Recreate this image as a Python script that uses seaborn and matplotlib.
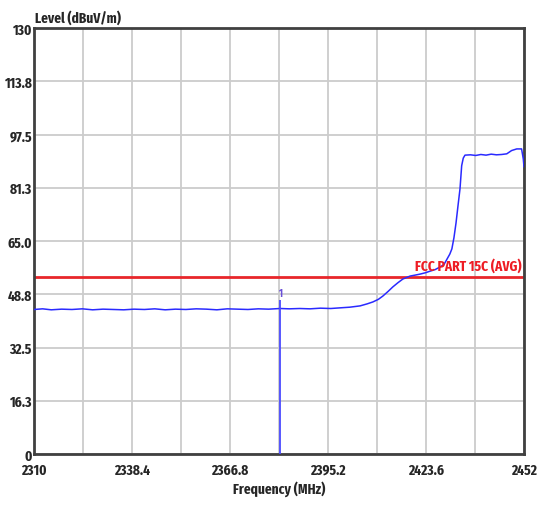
import matplotlib
matplotlib.use("Agg")
import matplotlib.pyplot as plt
import seaborn as sns
import pandas as pd
import numpy as np
from matplotlib import font_manager

sns.set_style("white")

# ---- data ----
freq_mhz = [2310.0, 2312.5, 2315.0, 2318.0, 2321.0, 2324.0, 2327.0, 2330.0, 2333.0, 2336.0,
            2339.0, 2342.0, 2345.0, 2348.0, 2351.0, 2354.0, 2357.0, 2360.0, 2363.0, 2366.0,
            2369.0, 2372.0, 2375.0, 2378.0, 2381.3, 2384.0, 2387.0, 2390.0, 2393.0, 2396.0,
            2398.7, 2401.5, 2404.5, 2406.5, 2408.2, 2409.8, 2411.1, 2412.6, 2414.0, 2415.5,
            2416.9, 2419.0, 2420.5, 2421.9, 2423.4, 2424.8, 2426.3, 2427.7, 2428.8, 2429.7,
            2430.5, 2431.1, 2431.7, 2432.3, 2432.9, 2433.45, 2433.94, 2434.4, 2434.9, 2436.5,
            2438.0, 2439.5, 2441.0, 2442.5, 2444.0, 2445.5, 2447.0, 2448.4, 2449.9, 2451.3,
            2451.8, 2452.0]
level_dbuv = [44.1, 44.3, 44.0, 44.2, 44.1, 44.3, 44.0, 44.2, 44.1, 44.0,
              44.2, 44.1, 44.3, 44.0, 44.2, 44.1, 44.3, 44.2, 44.0, 44.3,
              44.2, 44.1, 44.3, 44.2, 44.4, 44.3, 44.4, 44.3, 44.5, 44.4,
              44.6, 44.8, 45.2, 45.8, 46.4, 47.2, 48.2, 49.6, 51.0, 52.3,
              53.4, 54.3, 54.6, 54.9, 55.3, 55.8, 56.3, 57.1, 57.8, 59.5,
              61.0, 62.6, 66.0, 70.5, 76.0, 80.9, 88.0, 90.3, 91.2, 91.3,
              91.1, 91.4, 91.2, 91.5, 91.3, 91.4, 91.6, 92.6, 93.1, 93.1,
              90.0, 87.6]
limit_level = 54.0
limit_label = "FCC PART 15C (AVG)"
marker_freq = 2381.3
marker_level = 47.0
marker_label = "1"
x_ticks = [2310, 2338.4, 2366.8, 2395.2, 2423.6, 2452]
x_tick_labels = ["2310", "2338.4", "2366.8", "2395.2", "2423.6", "2452"]
y_ticks = [0, 16.25, 32.5, 48.75, 65.0, 81.25, 97.5, 113.75, 130]
y_tick_labels = ["0", "16.3", "32.5", "48.8", "65.0", "81.3", "97.5", "113.8", "130"]
x_label = "Frequency (MHz)"
y_label = "Level (dBuV/m)"

# pick the narrowest bold condensed font installed
best = None
for f in font_manager.fontManager.ttflist:
    fn = f.fname.lower().replace("-", "").replace("_", "")
    nm = f.name.lower()
    if "italic" in fn or "oblique" in fn:
        continue
    if not (f.weight in ("bold", 700, "700") or "bold" in fn):
        continue
    if "extrabold" in fn or "semibold" in fn:
        continue
    if "extracondensed" in fn or "ultracondensed" in fn:
        rank = 0
    elif "narrow" in fn or "narrow" in nm:
        rank = 1
    elif "semicondensed" in fn:
        rank = 3
    elif "condensed" in fn or "condensed" in nm or str(f.stretch).lower() == "condensed":
        rank = 2
    else:
        continue
    if best is None or rank < best[0]:
        best = (rank, f.fname)

if best is not None:
    sz = 10.5 if best[0] <= 1 else 9
    fp = font_manager.FontProperties(fname=best[1], size=sz)
    fp_mk = font_manager.FontProperties(fname=best[1], size=7.5)
else:
    fp = font_manager.FontProperties(family="Liberation Sans", weight="bold", size=8.5)
    fp_mk = font_manager.FontProperties(family="Liberation Sans", weight="bold", size=7)

df = pd.DataFrame({"freq": freq_mhz, "level": level_dbuv})

fig = plt.figure(figsize=(5.38, 5.06), dpi=100)
ax = fig.add_axes([34 / 538, 51 / 506, 490 / 538, 426 / 506])

# grid
minor_x = np.linspace(2310, 2452, 11)
for xv in minor_x:
    ax.axvline(xv, color="#cccccc", lw=1.3, zorder=0)
for yv in y_ticks:
    ax.axhline(yv, color="#cccccc", lw=1.3, zorder=0)

sns.lineplot(data=df, x="freq", y="level", ax=ax, color="#2a2aff", lw=1.1, zorder=3)

ax.axhline(limit_level, color="#e8262a", lw=2, zorder=2)
ax.text(2452 - 0.8, limit_level + 1.2, limit_label, color="#ee1c24", fontproperties=fp,
        ha="right", va="bottom", zorder=4)

ax.vlines(marker_freq, 0, marker_level, color="#4a4aff", lw=1.3, zorder=3)
ax.text(marker_freq, marker_level + 0.5, marker_label, color="#6a50d8", fontproperties=fp_mk,
        ha="center", va="bottom", zorder=4)

ax.set_xlim(2310, 2452)
ax.set_ylim(0, 130)
ax.set_xticks(x_ticks)
ax.set_xticklabels(x_tick_labels, fontproperties=fp)
ax.set_yticks(y_ticks)
ax.set_yticklabels(y_tick_labels, fontproperties=fp)
ax.tick_params(axis="y", length=0, pad=1.5)
ax.tick_params(axis="x", length=0, pad=6)
ax.set_xlabel(x_label, fontproperties=fp, labelpad=3)
ax.set_ylabel("")
ax.text(0.003, 1.008, y_label, transform=ax.transAxes, fontproperties=fp,
        ha="left", va="bottom")

for s in ax.spines.values():
    s.set_color("#404040")
    s.set_linewidth(2)
    s.set_visible(True)

fig.savefig("out.png", dpi=100)
